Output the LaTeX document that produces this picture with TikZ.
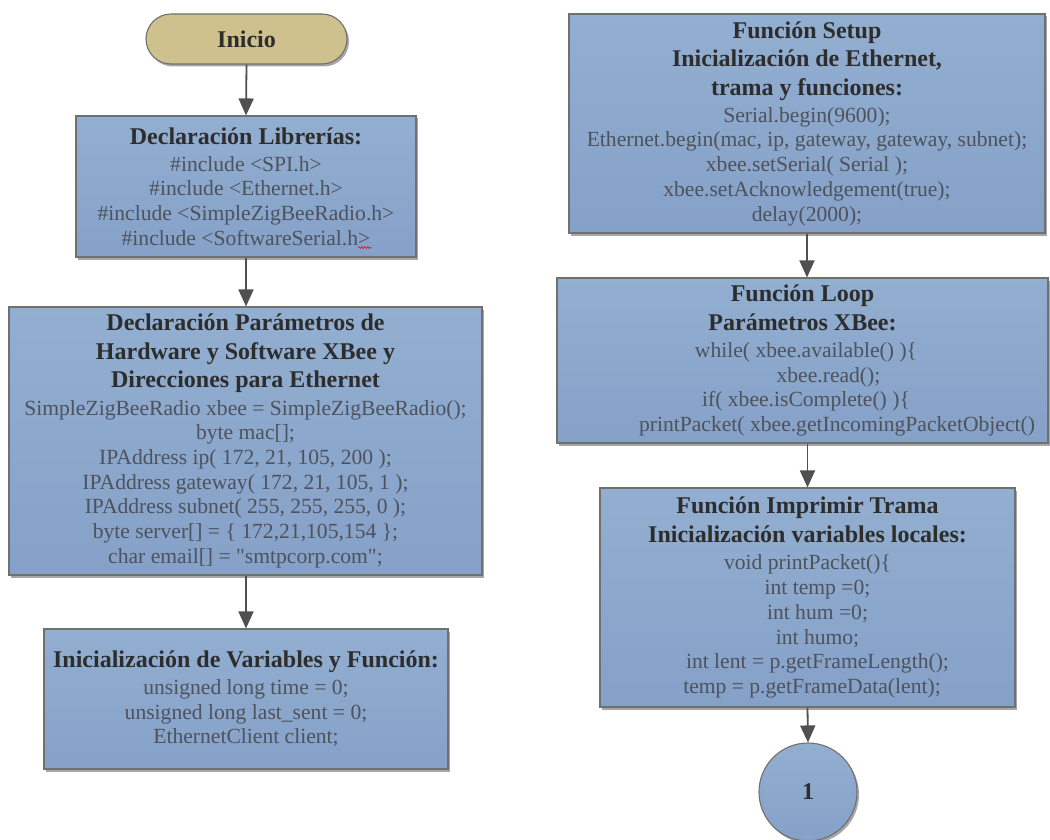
\documentclass[tikz,border=0pt]{standalone}
\usepackage{fontspec}
\setmainfont{Liberation Serif}[Ligatures=TeXOff]
\usetikzlibrary{arrows.meta,shadows,decorations.pathmorphing}

\definecolor{boxtop}{RGB}{146,174,208}
\definecolor{boxbot}{RGB}{133,161,200}
\definecolor{edgegray}{RGB}{112,112,112}
\definecolor{startfill}{RGB}{207,193,142}
\definecolor{titletext}{RGB}{45,45,45}
\definecolor{codetext}{RGB}{78,82,92}
\definecolor{arrowgray}{RGB}{80,80,80}

% bold heading line inside a block
\newcommand{\hd}[1]{{\fontsize{24}{28.5}\selectfont\bfseries\color{titletext}#1}}
% shift a centred line sideways by half the given amount
\newcommand{\sh}[1]{\hspace*{#1pt}}

\tikzset{
  base/.style={draw=edgegray, line width=1.1pt,
    drop shadow={shadow xshift=2pt, shadow yshift=-2.5pt, opacity=0.35, fill=black},
    align=center, inner sep=0pt,
    font=\fontsize{21.6}{24.7}\selectfont, text=codetext},
  procbox/.style={base, rectangle, top color=boxtop, bottom color=boxbot},
  startbox/.style={base, rectangle, rounded corners=25pt, fill=startfill},
  joinmark/.style={base, circle, top color=boxtop, bottom color=boxbot},
  flow/.style={draw=arrowgray, line width=1.8pt, -{Triangle[width=15pt,length=17pt]}}
}

\begin{document}
\begin{tikzpicture}[x=1pt,y=-1pt]
\useasboundingbox (0,0) rectangle (1050,840);

% ---------- left column ----------
\node[startbox, minimum width=201pt, minimum height=50pt] (inicio) at (246.5,39) {\hd{Inicio}};

\node[procbox, minimum width=340pt, minimum height=141pt] (libs) at (246,186.5)
  {\hd{Declaración Librerías:}\\[2.5pt]
   \#include <SPI.h>\\
   \#include <Ethernet.h>\\
   \#include <SimpleZigBeeRadio.h>\\
   \#include <SoftwareSerial.h>};

\node[procbox, minimum width=473pt, minimum height=268pt] (params) at (245.5,441)
  {\hd{Declaración Parámetros de}\\[3.8pt]
   \hd{Hardware y Software XBee y}\\[3.8pt]
   \hd{Direcciones para Ethernet}\\[2.5pt]
   SimpleZigBeeRadio xbee = SimpleZigBeeRadio();\\
   byte mac[];\\
   IPAddress ip( 172, 21, 105, 200 );\\
   IPAddress gateway( 172, 21, 105, 1 );\\
   IPAddress subnet( 255, 255, 255, 0 );\\
   byte server[] = \{ 172,21,105,154 \};\\
   char email[] = "smtpcorp.com";};

\node[procbox, minimum width=404pt, minimum height=140pt] (vars) at (246,699)
  {\hd{Inicialización de Variables y Función:}\\[2.5pt]
   unsigned long time = 0;\\
   unsigned long last\_sent = 0;\\
   EthernetClient client;};

% spell-check mark under the last include
\draw[red, line width=0.6pt, decorate, decoration={snake, amplitude=0.9pt, segment length=3pt}]
  (358,247.5) -- (371,247.5);

\draw[flow] (inicio.south) -- (libs.north);
\draw[flow] (libs.south) -- (libs.south |- params.north);
\draw[flow] (params.south -| libs.south) -- (vars.north -| libs.south);

% ---------- right column ----------
\node[procbox, minimum width=476pt, minimum height=219pt] (setup) at (807,123.5)
  {\hd{Función Setup}\\[3.8pt]
   \hd{Inicialización de Ethernet,}\\[3.8pt]
   \hd{trama y funciones:}\\[2.5pt]
   Serial.begin(9600);\\
   Ethernet.begin(mac, ip, gateway, gateway, subnet);\\
   xbee.setSerial( Serial );\\
   xbee.setAcknowledgement(true);\\
   delay(2000);};

\node[procbox, minimum width=491pt, minimum height=165pt] (loop) at (802.5,360.5)
  {\hd{Función Loop}\\[3.8pt]
   \hd{Parámetros XBee:}\\[2.5pt]
   \sh{7}while( xbee.available() )\{\\
   \sh{52}xbee.read();\\
   \sh{7}if( xbee.isComplete() )\{\\
   \sh{69}printPacket( xbee.getIncomingPacketObject()};

\node[procbox, minimum width=415pt, minimum height=219pt] (print) at (807.5,597.5)
  {\hd{Función Imprimir Trama}\\[4.5pt]
   \hd{Inicialización variables locales:}\\[2.5pt]
   void printPacket()\{\\
   \sh{20}int temp =0;\\
   \sh{20}int hum =0;\\
   \sh{20}int humo;\\
   \sh{20}int lent = p.getFrameLength();\\
   \sh{9}temp = p.getFrameData(lent);};

\node[joinmark, minimum size=98pt] (one) at (808,792) {\hd{1}};

\draw[flow] (setup.south) -- (setup.south |- loop.north);
\draw[flow] (loop.south -| print.north) -- (print.north);
\draw[flow] (print.south) -- (one.north);
\end{tikzpicture}
\end{document}
